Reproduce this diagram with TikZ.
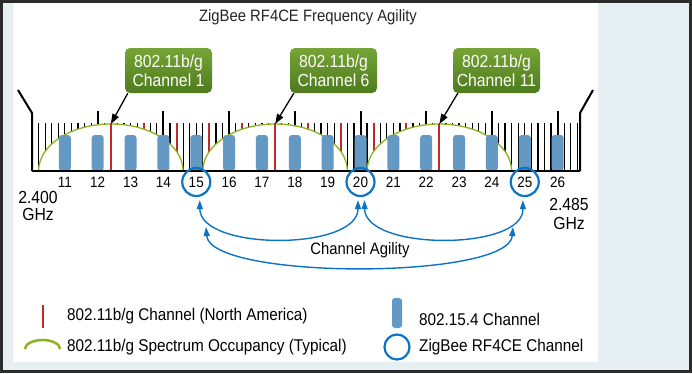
\documentclass[tikz,border=0pt]{standalone}
\usepackage{fontspec}
\setmainfont{Liberation Sans}[FakeStretch=0.9]
\usetikzlibrary{arrows.meta}
\definecolor{frame}{HTML}{2B2B2B}
\definecolor{paleblue}{HTML}{E6F0F2}
\definecolor{barblue}{HTML}{6399C2}
\definecolor{ringblue}{HTML}{0B74C6}
\definecolor{wifired}{HTML}{BE2A2A}
\definecolor{archgreen}{HTML}{8DB31F}
\definecolor{boxtop}{HTML}{76A436}
\definecolor{boxbot}{HTML}{4E7B1D}
\tikzset{
  tick/.style={line width=1.2pt, black},
  talltick/.style={line width=2pt, black},
  redtick/.style={line width=2pt, wifired},
  arch/.style={line width=1.3pt, archgreen, fill=white},
  bar/.style={fill=barblue, rounded corners=3pt, minimum width=12pt, minimum height=36pt, inner sep=0pt},
  chlab/.style={font=\fontsize{15}{17}\selectfont, inner sep=0pt},
  ring/.style={circle, draw=ringblue, line width=2.2pt, minimum size=28pt, inner sep=0pt},
  callout/.style={rounded corners=5pt, top color=boxtop, bottom color=boxbot, draw=none,
    text=white, align=center, minimum width=87pt, minimum height=45pt, inner sep=0pt,
    font=\fontsize{17.5}{19}\selectfont},
  pointer/.style={line width=1.3pt, -{Triangle[length=10pt,width=7pt]}},
  agility/.style={line width=1.4pt, ringblue, {Triangle[length=9pt,width=6pt]}-{Triangle[length=9pt,width=6pt]}},
  legtext/.style={font=\fontsize{17}{19}\selectfont, anchor=west, inner sep=0pt},
  rim/.style={line width=2pt, black}
}
\begin{document}
\begin{tikzpicture}[x=1pt,y=-1pt]
\useasboundingbox (0,0) rectangle (692,373);
% background and frame
\fill[paleblue] (0,0) rectangle (692,373);
\fill[white] (13,3) rectangle (598,362);
\fill[frame] (0,0) rectangle (692,3);
\fill[frame] (0,0) rectangle (3,373);
\fill[frame] (0,370) rectangle (692,373);
\fill[frame] (689,0) rectangle (692,373);
% title
\node[font=\fontsize{16.5}{18}\selectfont, text=black!85] (title) at (308,17) {ZigBee RF4CE Frequency Agility};
% ticks (1 MHz each)
\foreach \f in {1,...,83}{
  \draw[tick] ({32+6.57*\f},123) -- ({32+6.57*\f},171);
}
\foreach \f in {10,20,...,80}{
  \draw[talltick] ({32+6.57*\f},111) -- ({32+6.57*\f},171);
}
\foreach \f in {17,22,27,32,42,47,52,57}{
  \draw[redtick] ({32+6.57*\f},123) -- ({32+6.57*\f},171);
}
% 802.11 spectrum arches
\foreach \c in {12,37,62}{
  \draw[arch] ({32+6.57*(\c-11)},171) arc[start angle=180, end angle=360, x radius=72.27, y radius=47];
}
% main 802.11 channel lines
\foreach \c/\n in {12/1,37/6,62/11}{
  \draw[redtick] ({32+6.57*\c},171) -- ({32+6.57*\c},124) coordinate (r\n);
}
% 802.15.4 channels
\foreach \c in {11,...,26}{
  \node[bar] (bar\c) at ({32+32.85*(\c-10)},153) {};
}
% rim and axis
\draw[rim] (18,90) -- (32,113) -- (32,171);
\draw[rim] (593,90) -- (580,113) -- (580,171);
\draw[line width=1.6pt] (32,171) -- (580,171);
% channel numbers
\foreach \c in {11,...,26}{
  \node[chlab] (ch\c) at ({32+32.85*(\c-10)},182) {\c};
}
\foreach \c in {15,20,25}{
  \node[ring] (z\c) at (ch\c) {};
}
% band edges
\node[font=\fontsize{17.5}{17}\selectfont, align=center, inner sep=0pt] (lo) at (38,206) {2.400\\GHz};
\node[font=\fontsize{17.5}{19}\selectfont, align=center, inner sep=0pt] (hi) at (569,214) {2.485\\GHz};
% callouts
\node[callout] (cb1) at (168.5,70.5) {802.11b/g\\Channel 1};
\node[callout] (cb6) at (333.5,70.5) {802.11b/g\\Channel 6};
\node[callout] (cb11) at (496.5,70.5) {802.11b/g\\Channel 11};
\draw[pointer] ([xshift=3pt]cb1.south west) -- (r1);
\draw[pointer] ([xshift=4pt]cb6.south west) -- (r6);
\draw[pointer] ([xshift=5pt]cb11.south west) -- (r11);
% channel agility arrows
\coordinate (a15) at (206,227);
\coordinate (a25) at (513,227);
\draw[agility] ([xshift=3.5pt,yshift=-3pt]z15.south) .. controls (200,251) and (358,251) .. ([xshift=-2.5pt,yshift=-3pt]z20.south);
\draw[agility] ([xshift=4pt,yshift=-3pt]z20.south) .. controls (365,251) and (524,251) .. ([xshift=-2pt,yshift=-3pt]z25.south);
\draw[agility] (a15) .. controls (210,280) and (509,280) .. (a25);
\node[font=\fontsize{16.5}{18}\selectfont, inner sep=0pt] (agil) at (360,250) {Channel Agility};
% legend
\draw[redtick] (43,305) -- (43,328);
\node[legtext] (l1) at (67,316) {802.11b/g Channel (North America)};
\draw[line width=2.5pt, archgreen] (25,349) arc[start angle=180, end angle=360, x radius=17.5, y radius=9];
\node[legtext] (l2) at (67,347) {802.11b/g Spectrum Occupancy (Typical)};
\node[fill=barblue, rounded corners=3pt, minimum width=10pt, minimum height=30pt, inner sep=0pt] (lbar) at (397,313) {};
\node[legtext] (l3) at (419,319) {802.15.4 Channel};
\node[circle, draw=ringblue, line width=2.2pt, minimum size=25pt, inner sep=0pt] (lring) at (397,347) {};
\node[legtext] (l4) at (419,347) {ZigBee RF4CE Channel};
\end{tikzpicture}
\end{document}
